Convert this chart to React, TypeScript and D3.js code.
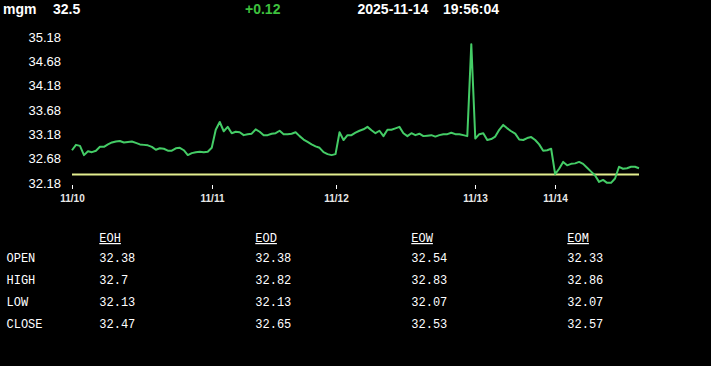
import React from "react";
import * as d3 from "d3";

// ---- data ----
const symbol = "mgm";
const lastPrice = "32.5";
const change = "+0.12";
const dateText = "2025-11-14";
const timeText = "19:56:04";

const prices: number[] = [
  32.88, 32.99, 32.97, 32.78, 32.86, 32.84, 32.87, 32.95, 32.95, 33.0,
  33.04, 33.06, 33.07, 33.04, 33.05, 33.06, 33.03, 33.0, 32.99, 32.98,
  32.95, 32.89, 32.92, 32.91, 32.87, 32.87, 32.92, 32.93, 32.88, 32.78,
  32.82, 32.84, 32.85, 32.84, 32.85, 32.93, 33.3, 33.46, 33.27, 33.36,
  33.23, 33.26, 33.25, 33.19, 33.21, 33.22, 33.31, 33.26, 33.19, 33.19,
  33.22, 33.23, 33.28, 33.21, 33.21, 33.22, 33.25, 33.17, 33.1, 33.05,
  33.0, 32.96, 32.93, 32.84, 32.8, 32.78, 32.8, 33.25, 33.09, 33.19,
  33.19, 33.24, 33.28, 33.31, 33.36, 33.29, 33.23, 33.28, 33.17, 33.3,
  33.3, 33.33, 33.36, 33.23, 33.17, 33.23, 33.19, 33.22, 33.17, 33.18,
  33.19, 33.16, 33.19, 33.21, 33.21, 33.24, 33.21, 33.21, 33.19, 33.17,
  35.06, 33.12, 33.21, 33.23, 33.09, 33.11, 33.16, 33.3, 33.4, 33.33,
  33.27, 33.22, 33.1, 33.09, 33.13, 33.15, 33.09, 33.0, 32.87, 32.88,
  32.91, 32.39, 32.5, 32.64, 32.57, 32.6, 32.61, 32.64, 32.6, 32.52,
  32.44, 32.36, 32.23, 32.27, 32.21, 32.21, 32.3, 32.54, 32.5, 32.51,
  32.54, 32.54, 32.51,
];

const prevClose = 32.38;

const yTicks: number[] = [32.18, 32.68, 33.18, 33.68, 34.18, 34.68, 35.18];
const dayLabels: string[] = ["11/10", "11/11", "11/12", "11/13", "11/14"];
const dayStartIndex: number[] = [0, 35, 66, 101, 121];

const periods: string[] = ["EOH", "EOD", "EOW", "EOM"];
const rowLabels: string[] = ["OPEN", "HIGH", "LOW", "CLOSE"];
const openVals: string[] = ["32.38", "32.38", "32.54", "32.33"];
const highVals: string[] = ["32.7", "32.82", "32.83", "32.86"];
const lowVals: string[] = ["32.13", "32.13", "32.07", "32.07"];
const closeVals: string[] = ["32.47", "32.65", "32.53", "32.57"];

const W = 711;
const H = 366;

export default function App() {
  const x = d3.scaleLinear().domain([0, prices.length - 1]).range([72, 639]);
  const y = d3.scaleLinear().domain([32.18, 35.18]).range([184.3, 38.3]);
  const line = d3
    .line<number>()
    .x((_, i) => x(i))
    .y((d) => y(d));

  const tableRows = [openVals, highVals, lowVals, closeVals];
  const colX = d3.scaleLinear().domain([0, 1]).range([99.3, 255.3]);
  const rowY = d3.scaleLinear().domain([0, 1]).range([262.3, 284.3]);

  const headFont = "'Liberation Sans', Arial, sans-serif";
  const mono = "'Liberation Mono', 'DejaVu Sans Mono', monospace";

  return (
    <>
      <style>{`html,body{margin:0;padding:0;background:#000;}`}</style>
      <svg width={W} height={H} style={{ display: "block", background: "#000" }}>
        <rect x={0} y={0} width={W} height={H} fill="#000" />
        {/* header */}
        <g fontFamily={headFont} fontWeight="bold" fontSize={14} fill="#fff">
          <text x={3} y={14}>{symbol}</text>
          <text x={53} y={14}>{lastPrice}</text>
          <text x={245} y={14} fill="#3ec13e">{change}</text>
          <text x={357.5} y={14}>{dateText}</text>
          <text x={443} y={14}>{timeText}</text>
        </g>

        {/* y labels */}
        <g fontFamily={headFont} fontSize={13} fill="#fff" textAnchor="end">
          {yTicks.map((t) => (
            <text key={t} x={61} y={y(t)} dominantBaseline="middle">
              {t.toFixed(2)}
            </text>
          ))}
        </g>

        {/* x ticks */}
        <g>
          {dayStartIndex.map((idx, k) => (
            <g key={dayLabels[k]} transform={`translate(${Math.round(x(idx)) + 0.5},0)`}>
              <line y1={185} y2={189} stroke="#fff" strokeWidth={1} />
              <text
                y={201.5}
                textAnchor="middle"
                fontFamily={headFont}
                fontWeight="bold"
                fontSize={10}
                fill="#e8e8e8"
              >
                {dayLabels[k]}
              </text>
            </g>
          ))}
        </g>

        {/* previous close */}
        <line
          x1={x(0)}
          x2={x(prices.length - 1)}
          y1={y(prevClose)}
          y2={y(prevClose)}
          stroke="#e3ee8f"
          strokeWidth={2}
        />

        {/* price line */}
        <path
          d={line(prices) || ""}
          fill="none"
          stroke="#44cc66"
          strokeWidth={2}
          strokeLinejoin="round"
        />

        {/* table */}
        <g fontFamily={mono} fontSize={12} fill="#fff">
          {periods.map((p, c) => (
            <text key={p} x={colX(c)} y={242} textDecoration="underline">
              {p}
            </text>
          ))}
          {rowLabels.map((r, ri) => (
            <g key={r}>
              <text x={6.5} y={rowY(ri)}>{r}</text>
              {tableRows[ri].map((v, c) => (
                <text key={c} x={colX(c)} y={rowY(ri) - 0.5}>{v}</text>
              ))}
            </g>
          ))}
        </g>
      </svg>
    </>
  );
}
